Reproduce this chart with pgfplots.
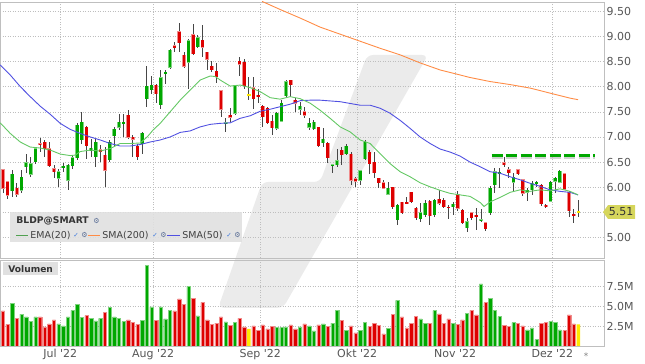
\documentclass[border=0pt]{standalone}
\usepackage{fontspec}
\setmainfont{DejaVu Sans}
\usepackage{pgfplots}
\usepackage{pgfplotstable}
\pgfplotsset{compat=1.18}
\definecolor{cG}{RGB}{0,168,0}
\definecolor{cR}{RGB}{222,0,0}
\definecolor{cY}{RGB}{255,232,0}
\definecolor{emaC}{RGB}{100,200,100}
\definecolor{smaF}{RGB}{80,80,225}
\definecolor{smaT}{RGB}{255,140,70}
\definecolor{wick}{RGB}{70,70,70}
\definecolor{gridC}{RGB}{190,190,190}
\definecolor{lblC}{RGB}{85,85,85}
\definecolor{tagC}{RGB}{214,214,92}
\definecolor{icoC}{RGB}{90,110,150}
\definecolor{chkC}{RGB}{60,120,220}

% candles: index open high low close
\pgfplotstableread{
i o h l c
0 6.35 6.37 5.88 5.98
1 6.11 6.12 5.76 5.84
3 5.98 6.09 5.80 5.86
8 6.87 6.97 6.71 6.84
9 6.90 6.94 6.61 6.77
10 6.77 6.90 6.41 6.43
11 6.37 6.44 6.18 6.31
18 7.20 7.22 6.57 6.82
21 6.75 6.85 6.50 6.71
22 6.64 6.80 6.01 6.34
27 7.43 7.53 6.95 6.99
28 7.00 7.04 6.61 6.95
29 6.82 6.87 6.54 6.61
33 8.03 8.05 7.67 7.85
37 8.81 8.88 8.68 8.77
38 9.09 9.26 8.68 8.87
39 8.62 8.68 8.37 8.40
41 9.03 9.25 8.62 8.65
43 8.92 9.22 8.59 8.78
44 8.68 8.69 8.33 8.54
45 8.41 8.50 8.29 8.33
46 8.31 8.46 8.08 8.20
47 7.92 7.93 7.40 7.55
49 7.43 7.57 7.30 7.39
51 8.51 8.59 8.21 8.44
52 8.49 8.54 7.96 8.01
54 7.98 8.19 7.55 7.75
55 7.83 7.96 7.67 7.80
56 7.61 7.63 7.20 7.40
57 7.57 7.60 7.25 7.28
58 7.32 7.43 7.04 7.18
62 8.13 8.14 7.80 8.03
63 7.73 7.78 7.50 7.67
65 7.50 7.60 7.37 7.43
68 7.20 7.20 6.80 6.82
70 6.88 6.90 6.49 6.59
73 6.74 6.80 6.44 6.64
75 6.66 6.71 6.04 6.14
76 6.17 6.21 6.01 6.12
79 6.70 6.74 6.27 6.47
80 6.50 6.70 6.18 6.29
81 6.18 6.18 5.98 6.09
82 6.09 6.14 5.96 5.98
84 6.00 6.01 5.56 5.61
86 5.70 5.71 5.48 5.50
87 5.70 5.81 5.67 5.68
88 5.90 5.91 5.69 5.71
89 5.58 5.60 5.35 5.40
92 5.72 5.75 5.25 5.43
94 5.77 5.94 5.65 5.68
95 5.75 5.78 5.58 5.61
96 5.61 5.65 5.38 5.59
98 5.86 5.93 5.54 5.58
99 5.55 5.57 5.27 5.30
101 5.50 5.52 5.35 5.39
102 5.45 5.59 5.16 5.42
104 5.30 5.32 5.14 5.17
108 6.49 6.61 6.41 6.44
109 6.35 6.41 6.18 6.29
111 6.35 6.36 6.25 6.27
112 6.15 6.17 5.82 5.88
116 6.05 6.06 5.62 5.67
117 5.65 5.67 5.59 5.62
121 6.27 6.29 5.95 5.96
122 5.90 5.92 5.42 5.54
123 5.47 5.57 5.29 5.45
}\redC
\pgfplotstableread{
i o h l c
2 5.93 6.34 5.81 6.26
4 5.94 6.34 5.88 6.20
5 6.41 6.67 6.28 6.49
6 6.26 6.61 6.21 6.47
7 6.51 6.80 6.47 6.77
12 6.18 6.37 6.01 6.31
13 6.38 6.48 6.30 6.42
14 6.14 6.47 5.94 6.44
15 6.43 6.64 6.37 6.59
16 6.59 7.27 6.55 7.24
17 6.94 7.50 6.87 7.30
19 6.72 6.95 6.60 6.78
20 6.61 6.97 6.41 6.90
23 6.54 6.94 6.51 6.90
24 7.02 7.20 6.80 7.15
25 7.19 7.45 7.14 7.30
26 7.27 7.45 7.00 7.30
30 6.87 7.10 6.67 7.07
31 7.75 8.41 7.59 8.01
32 7.94 8.21 7.86 8.03
34 7.64 8.32 7.56 8.18
35 8.25 8.32 8.05 8.28
36 8.38 8.75 8.35 8.72
40 8.48 8.95 7.95 8.91
42 8.79 9.02 8.76 8.97
48 7.27 7.37 7.10 7.28
50 7.47 8.04 7.43 8.02
59 7.17 7.49 7.14 7.47
60 7.31 7.73 7.30 7.67
61 7.81 8.13 7.80 8.10
64 7.55 7.69 7.43 7.61
66 7.19 7.37 7.14 7.28
67 7.16 7.33 7.14 7.30
69 6.88 7.17 6.80 6.95
71 6.43 6.47 6.29 6.45
72 6.44 6.77 6.41 6.53
74 6.67 6.86 6.64 6.82
77 6.14 6.34 6.04 6.33
78 6.57 6.94 6.54 6.90
83 5.86 6.11 5.84 5.98
85 5.36 5.67 5.25 5.65
90 5.38 5.68 5.31 5.50
91 5.45 5.75 5.41 5.69
93 5.45 5.76 5.41 5.75
97 5.61 5.71 5.45 5.67
100 5.20 5.39 5.12 5.32
103 5.34 5.56 5.32 5.36
105 5.50 6.02 5.45 5.98
106 6.05 6.38 5.88 6.31
107 6.27 6.38 5.98 6.30
110 6.10 6.28 5.90 6.20
113 5.90 5.98 5.72 5.94
114 5.95 6.12 5.85 6.08
115 6.09 6.12 6.00 6.10
118 5.72 6.12 5.70 6.10
119 6.12 6.21 5.88 6.18
120 6.10 6.35 6.08 6.32
}\greenC
\pgfplotstableread{
i o h l c
53 7.84 8.19 7.73 7.84
124 5.51 5.74 5.42 5.51
}\yellowC

% moving averages, x in pixels of the chart
\pgfplotstableread{
x p
0 7.28
10 7.07
20 6.90
30 6.80
40 6.78
50 6.74
60 6.66
70 6.63
75 6.64
80 6.71
90 6.74
100 6.72
110 6.77
120 6.87
130 6.87
140 6.88
147 7.00
153 7.14
160 7.27
170 7.50
180 7.73
190 7.93
200 8.13
210 8.21
215 8.20
220 8.13
230 8.01
240 8.03
250 7.98
260 7.90
270 7.78
280 7.75
290 7.80
300 7.76
310 7.67
320 7.53
330 7.37
340 7.20
350 7.10
360 6.94
370 6.87
380 6.67
390 6.47
400 6.31
410 6.21
420 6.09
430 6.01
440 5.94
450 5.88
460 5.85
470 5.82
480 5.70
484 5.62
490 5.71
500 5.80
510 5.90
520 5.95
530 5.92
540 5.95
550 5.93
560 5.97
570 5.92
578 5.85
}\emaT
\pgfplotstableread{
x p
0 8.43
10 8.23
20 8.00
30 7.80
40 7.61
50 7.45
60 7.27
70 7.15
80 7.07
90 7.00
100 6.94
110 6.87
120 6.82
130 6.82
140 6.85
150 6.90
160 6.94
170 7.00
180 7.09
190 7.12
200 7.20
210 7.25
220 7.27
230 7.28
240 7.37
250 7.42
260 7.51
270 7.55
280 7.60
290 7.65
300 7.72
310 7.73
320 7.73
340 7.70
360 7.63
370 7.63
380 7.57
390 7.47
400 7.33
410 7.17
420 7.00
430 6.87
440 6.76
450 6.70
460 6.62
470 6.50
480 6.41
490 6.31
500 6.28
510 6.21
520 6.15
530 6.08
540 6.02
550 5.95
560 5.92
570 5.90
578 5.85
}\smaFT
\pgfplotstableread{
x p
262 9.69
280 9.53
300 9.36
310 9.27
320 9.18
340 9.04
360 8.90
380 8.76
400 8.63
420 8.47
440 8.33
450 8.28
460 8.23
470 8.18
490 8.10
510 8.04
530 7.97
550 7.87
570 7.77
578 7.74
}\smaTT

\pgfplotsset{
  panel/.style={
    scale only axis, width=604bp,
    xmin=-0.58, xmax=129.53,
    axis line style={draw=gray!50},
    tick style={draw=none},
    grid=major,
    major grid style={dash pattern=on 1bp off 1.5bp, draw=gridC, line width=0.5bp},
    xtick={12.34,32.38,55.43,76.33,97.44,118.4},
    yticklabel pos=right,
    tick label style={font=\fontsize{11bp}{13bp}\selectfont, text=lblC},
    yticklabel style={anchor=west, xshift=-1bp},
    clip=true,
  },
  wicks/.style={only marks, mark=*, mark size=0pt, mark options={draw=none, fill=none}, forget plot,
    error bars/.cd, y dir=both, y explicit, error mark=none,
    error bar style={line width=0.8bp, draw=wick}},
  bodies/.style 2 args={only marks, mark=*, mark size=0pt, mark options={draw=none, fill=none}, forget plot,
    error bars/.cd, y dir=both, y explicit, error mark=none,
    error bar style={line width=#2, draw=#1}},
}

\begin{document}
\begin{tikzpicture}[x=1bp,y=1bp]
\path (0,0) rectangle (645,363);
% watermark logo
\fill[black!8, rounded corners=6bp] (367,308) -- (428,308) -- (283,55) -- (218,55) -- (262,181) -- (320,181) -- cycle;

\begin{scope}[shift={(0bp,105bp)}]
\begin{axis}[panel, at={(0bp,0bp)}, anchor=south west, height=256bp,
  ymin=4.599, ymax=9.679,
  ytick={5,5.5,6,6.5,7,7.5,8,8.5,9,9.5},
  yticklabels={5.00,,6.00,6.50,7.00,7.50,8.00,8.50,9.00,9.50},
  xticklabels={}]
  \addplot[wicks] table[x=i, y expr={(\thisrow{h}+\thisrow{l})/2}, y error expr={(\thisrow{h}-\thisrow{l})/2}] {\redC};
  \addplot[wicks] table[x=i, y expr={(\thisrow{h}+\thisrow{l})/2}, y error expr={(\thisrow{h}-\thisrow{l})/2}] {\greenC};
  \addplot[wicks] table[x=i, y expr={(\thisrow{h}+\thisrow{l})/2}, y error expr={(\thisrow{h}-\thisrow{l})/2}] {\yellowC};
  % body edges (lighter), then body fill
  \addplot[bodies={cR!45}{3.7bp}] table[x=i, y expr={(\thisrow{o}+\thisrow{c})/2}, y error expr={max(abs(\thisrow{o}-\thisrow{c})/2,0.011)+0.006}] {\redC};
  \addplot[bodies={cG!50}{3.7bp}] table[x=i, y expr={(\thisrow{o}+\thisrow{c})/2}, y error expr={max(abs(\thisrow{o}-\thisrow{c})/2,0.011)+0.006}] {\greenC};
  \addplot[bodies={cR}{2.7bp}] table[x=i, y expr={(\thisrow{o}+\thisrow{c})/2}, y error expr={max(abs(\thisrow{o}-\thisrow{c})/2,0.011)}] {\redC};
  \addplot[bodies={cG}{2.7bp}] table[x=i, y expr={(\thisrow{o}+\thisrow{c})/2}, y error expr={max(abs(\thisrow{o}-\thisrow{c})/2,0.011)}] {\greenC};
  \addplot[bodies={cY}{3.3bp}] table[x=i, y expr={(\thisrow{o}+\thisrow{c})/2}, y error expr={max(abs(\thisrow{o}-\thisrow{c})/2,0.011)}] {\yellowC};
  \addplot[smaT, line width=0.9bp] table[x expr={(\thisrow{x}-2.7)/4.642}, y=p] {\smaTT};
  \addplot[smaF, line width=0.9bp] table[x expr={(\thisrow{x}-2.7)/4.642}, y=p] {\smaFT};
  \addplot[emaC, line width=0.9bp] table[x expr={(\thisrow{x}-2.7)/4.642}, y=p] {\emaT};
  \addplot[black!30, opacity=0.6, line width=3bp, dash pattern=on 11bp off 3.5bp] coordinates {(105.3,6.585) (127.6,6.585)};
  \addplot[cG, line width=3bp, dash pattern=on 11bp off 3.5bp] coordinates {(105.3,6.63) (127.6,6.63)};
\end{axis}
\end{scope}

\begin{scope}[shift={(0bp,17bp)}]
\begin{axis}[panel, at={(0bp,0bp)}, anchor=south west, height=86bp,
  ymin=0, ymax=10.9,
  ytick={2.5,5,7.5},
  yticklabels={2.5M,5.0M,7.5M},
  xticklabels={Jul \textquotesingle22,Aug \textquotesingle22,Sep \textquotesingle22,Okt \textquotesingle22,Nov \textquotesingle22,Dez \textquotesingle22},
  xticklabel style={yshift=0bp}]
  \addplot[ybar, bar width=3.3bp, bar shift=0pt, fill=cR, draw=cR!45, line width=0.4bp] coordinates {(0,4.43)(1,2.74)(3,3.50)(8,3.67)(9,2.41)(10,2.78)(11,3.29)(18,3.84)(22,4.26)(27,3.29)(28,3.00)(29,2.74)(33,3.25)(37,4.43)(38,5.95)(39,5.27)(41,6.03)(43,5.53)(44,3.29)(45,2.74)(46,2.87)(47,3.67)(49,2.57)(51,3.50)(52,2.41)(54,2.53)(55,1.94)(56,2.66)(57,2.15)(58,2.49)(62,2.66)(63,2.15)(65,2.78)(68,2.66)(70,2.49)(73,3.21)(75,2.53)(76,1.65)(79,2.45)(80,2.87)(81,2.62)(82,1.52)(84,3.97)(86,3.67)(87,2.28)(88,2.87)(89,3.71)(92,2.87)(94,4.05)(95,2.87)(96,3.42)(98,2.74)(99,3.29)(101,4.51)(102,3.92)(104,5.49)(108,2.62)(109,2.45)(111,2.87)(112,2.53)(116,2.87)(117,2.95)(121,1.94)(122,3.92)(123,2.78)};
  \addplot[ybar, bar width=3.3bp, bar shift=0pt, fill=cG, draw=cG!50, line width=0.4bp] coordinates {(2,5.40)(4,4.01)(5,3.67)(6,3.08)(7,3.67)(12,2.78)(13,2.53)(14,3.67)(15,4.51)(16,5.27)(17,3.59)(19,3.50)(20,3.16)(21,3.50)(23,4.85)(24,3.67)(25,3.50)(26,3.08)(30,3.21)(31,10.25)(32,4.94)(34,4.94)(35,3.42)(36,4.51)(40,7.59)(42,3.80)(48,3.04)(50,2.95)(59,2.32)(60,2.32)(61,2.41)(64,2.41)(66,2.53)(67,1.90)(69,2.78)(71,2.87)(72,4.47)(74,1.98)(77,1.98)(78,2.95)(83,2.19)(85,5.78)(90,3.42)(91,2.87)(93,4.47)(97,2.87)(100,4.14)(103,7.85)(105,6.03)(106,4.47)(107,3.71)(110,2.95)(113,2.03)(114,2.28)(115,0.80)(118,3.12)(119,2.95)(120,2.03)};
  \addplot[ybar, bar width=3.3bp, bar shift=0pt, fill=cY, draw=none] coordinates {(53,2.15)(124,2.74)};
\end{axis}
\end{scope}

% legend box
\fill[black!12, opacity=0.9] (10,121) rectangle (242,151);
\node[anchor=base west, inner sep=0, font=\bfseries\fontsize{9.2bp}{11bp}\selectfont, text=black!80] at (16,139) {BLDP@SMART};
\node[anchor=base west, inner sep=0, font=\fontsize{7bp}{8bp}\selectfont, text=icoC] at (93,139.5) {⚙};
\draw[emaC!80!black, line width=1.4bp] (16,127.5) -- (28,127.5);
\node[anchor=base west, inner sep=0, font=\fontsize{9.5bp}{11bp}\selectfont, text=black!75] at (30,124.5) {EMA(20)};
\node[anchor=base west, inner sep=0, font=\fontsize{6.5bp}{8bp}\selectfont, text=chkC] at (73,125) {✓};
\node[anchor=base west, inner sep=0, font=\fontsize{7bp}{8bp}\selectfont, text=icoC] at (81,125) {⚙};
\draw[smaT, line width=1.4bp] (88,127.5) -- (100,127.5);
\node[anchor=base west, inner sep=0, font=\fontsize{9.5bp}{11bp}\selectfont, text=black!75] at (102,124.5) {SMA(200)};
\node[anchor=base west, inner sep=0, font=\fontsize{6.5bp}{8bp}\selectfont, text=chkC] at (152,125) {✓};
\node[anchor=base west, inner sep=0, font=\fontsize{7bp}{8bp}\selectfont, text=icoC] at (160,125) {⚙};
\draw[smaF, line width=1.4bp] (167,127.5) -- (180,127.5);
\node[anchor=base west, inner sep=0, font=\fontsize{9.5bp}{11bp}\selectfont, text=black!75] at (182,124.5) {SMA(50)};
\node[anchor=base west, inner sep=0, font=\fontsize{6.5bp}{8bp}\selectfont, text=chkC] at (226,125) {✓};
\node[anchor=base west, inner sep=0, font=\fontsize{7bp}{8bp}\selectfont, text=icoC] at (234,125) {⚙};

% Volumen label
\fill[black!12] (3,88) rectangle (58,101);
\node[anchor=base west, inner sep=0, font=\bfseries\fontsize{9.1bp}{11bp}\selectfont, text=black!80] at (8,90.7) {Volumen};

% last price tag
\fill[tagC] (603,150.9) -- (608,157.8) -- (635,157.8) -- (635,144) -- (608,144) -- cycle;
\node[inner sep=0, font=\fontsize{11bp}{13bp}\selectfont, text=black!80] at (621,150.9) {5.51};

\node[inner sep=0, font=\fontsize{9bp}{10bp}\selectfont, text=gray] at (586,7) {*};
\end{tikzpicture}
\end{document}
